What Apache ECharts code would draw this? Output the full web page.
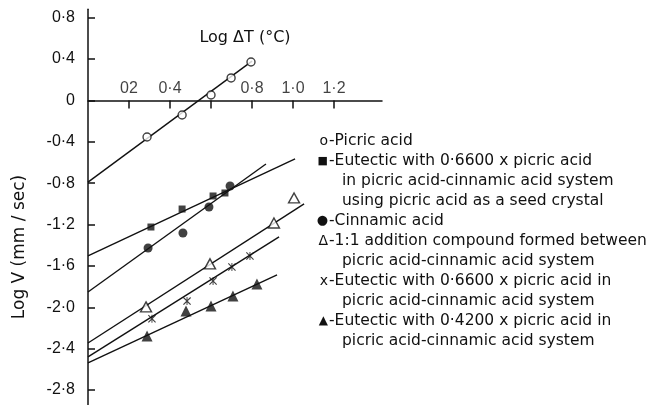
<!DOCTYPE html>
<html>
<head>
<meta charset="utf-8">
<script src="https://cdn.jsdelivr.net/npm/echarts@6/dist/echarts.min.js"></script>
<style>
  html, body { margin: 0; padding: 0; background: #fff; }
  #chart { width: 647px; height: 405px; }
</style>
</head>
<body>
<div id="chart"></div>
<script>
// Axis ticks and their printed labels
const xTickValues = [0.2, 0.4, 0.6, 0.8, 1.0, 1.2];
const xLabelValues = [0.2, 0.4, 0.8, 1.0, 1.2];
const xLabelTexts = ['02', '0·4', '0·8', '1·0', '1·2'];
const yTickValues = [0.8, 0.4, 0, -0.4, -0.8, -1.2, -1.6, -2.0, -2.4, -2.8];
const yLabelTexts = ['0·8', '0·4', '0', '-0·4', '-0·8', '-1·2', '-1·6', '-2·0', '-2·4', '-2·8'];

// Measured points [log ΔT, log V]
const picricAcid = [[0.288, -0.354], [0.459, -0.141], [0.600, 0.052], [0.698, 0.217], [0.795, 0.371]];
const eutecticSeeded = [[0.307, -1.224], [0.459, -1.050], [0.610, -0.924], [0.668, -0.895]];
const cinnamicAcid = [[0.293, -1.427], [0.463, -1.282], [0.590, -1.030], [0.693, -0.827]];
const additionCompound = [[0.283, -1.996], [0.595, -1.580], [0.907, -1.185], [1.005, -0.943]];
const eutectic066 = [[0.312, -2.110], [0.483, -1.940], [0.610, -1.746], [0.702, -1.610], [0.790, -1.504]];
const eutectic042 = [[0.288, -2.277], [0.478, -2.036], [0.600, -1.987], [0.707, -1.891], [0.824, -1.775]];

// Fitted straight lines (end points)
const picricFit = [[0, -0.790], [0.800, 0.380]];
const eutecticSeededFit = [[0, -1.504], [1.010, -0.566]];
const cinnamicFit = [[0, -1.852], [0.868, -0.615]];
const additionFit = [[0, -2.345], [1.054, -1.000]];
const eutectic066Fit = [[0, -2.480], [0.932, -1.320]];
const eutectic042Fit = [[0, -2.538], [0.922, -1.686]];

// Key: marker glyph ('' for a continued line) and text
const keyMarkers = ['o', '■', '', '', '●', 'Δ', '', 'x', '', '▲', ''];
const keyTexts = [
  'Picric acid',
  'Eutectic with 0·6600 x picric acid',
  'in picric acid-cinnamic acid system',
  'using picric acid as a seed crystal',
  'Cinnamic acid',
  '1:1 addition compound formed between',
  'picric acid-cinnamic acid system',
  'Eutectic with 0·6600 x picric acid in',
  'picric acid-cinnamic acid system',
  'Eutectic with 0·4200 x picric acid in',
  'picric acid-cinnamic acid system'
];
const keyMarkerFont = { 'o': '14px', '■': '11px', '●': '13px', 'Δ': '14px', 'x': '14px', '▲': '12px' };

const INK = '#111';
const asterisk = 'path://M0,1 L1,0 L5,4 L9,0 L10,1 L6,5 L10,9 L9,10 L5,6 L1,10 L0,9 L4,5 Z M4.4,0 L5.6,0 L5.6,10 L4.4,10 Z';

function fitLine(data) {
  return {
    type: 'line', data: data, symbol: 'none', silent: true,
    lineStyle: { color: INK, width: 1.4 }, z: 2
  };
}
function markers(data, symbol, size, filled) {
  return {
    type: 'scatter', data: data, symbol: symbol, symbolSize: size, z: 3,
    itemStyle: filled
      ? { color: INK }
      : { color: '#fff', borderColor: INK, borderWidth: 1.4 }
  };
}

const keyGraphics = [];
keyTexts.forEach(function (t, i) {
  const y = 141 + i * 20;
  const m = keyMarkers[i];
  const font = '15.5px "DejaVu Sans"';
  if (m) {
    keyGraphics.push({
      type: 'text', x: 328, y: y,
      style: { text: m, fill: INK, font: keyMarkerFont[m] + ' "DejaVu Sans"',
               align: 'right', verticalAlign: 'middle' }
    });
    keyGraphics.push({
      type: 'text', x: 329, y: y,
      style: { text: '-' + t, fill: INK, font: font, align: 'left', verticalAlign: 'middle' }
    });
  } else {
    keyGraphics.push({
      type: 'text', x: 342, y: y,
      style: { text: t, fill: INK, font: font, align: 'left', verticalAlign: 'middle' }
    });
  }
});

const chart = echarts.init(document.getElementById('chart'), null, { renderer: 'canvas' });
chart.setOption({
  animation: false,
  backgroundColor: '#fff',
  grid: { left: 88, top: 9.35, width: 294, height: 395.2, containLabel: false, outerBoundsMode: 'none' },
  xAxis: {
    type: 'value', min: 0, max: 1.434,
    axisLine: { show: true, onZero: true, lineStyle: { color: INK, width: 1.5 } },
    axisTick: { show: true, inside: false, length: 8, customValues: xTickValues,
                lineStyle: { color: INK, width: 1.5 } },
    axisLabel: { show: false },
    splitLine: { show: false }
  },
  yAxis: {
    type: 'value', min: -2.94, max: 0.88,
    axisLine: { show: true, onZero: false, lineStyle: { color: INK, width: 1.5 } },
    axisTick: { show: true, inside: true, length: 7, customValues: yTickValues,
                lineStyle: { color: INK, width: 1.5 } },
    axisLabel: {
      show: true, customValues: yTickValues, margin: 13,
      color: INK, fontFamily: 'Liberation Sans', fontSize: 16,
      formatter: function (v) {
        const i = yTickValues.findIndex(function (t) { return Math.abs(t - v) < 1e-6; });
        return i >= 0 ? yLabelTexts[i] : '';
      }
    },
    splitLine: { show: false }
  },
  series: [
    fitLine(picricFit),
    fitLine(eutecticSeededFit),
    fitLine(cinnamicFit),
    fitLine(additionFit),
    fitLine(eutectic066Fit),
    fitLine(eutectic042Fit),
    markers(picricAcid, 'circle', 8, false),
    markers(eutecticSeeded, 'rect', 7, true),
    markers(cinnamicAcid, 'circle', 9, true),
    markers(additionCompound, 'triangle', [11, 10], false),
    markers(eutectic066, asterisk, 8, true),
    markers(eutectic042, 'triangle', [11, 11], true),
    {
      // tick labels of the log ΔT axis, printed above the zero line
      type: 'scatter', silent: true, symbolSize: 0, z: 4,
      data: xLabelValues.map(function (v, i) { return { value: [v, 0], name: xLabelTexts[i] }; }),
      label: {
        show: true, position: 'top', distance: 4, color: INK,
        fontFamily: 'Liberation Sans', fontSize: 16,
        formatter: function (p) { return p.name; }
      }
    }
  ],
  graphic: [
    {
      type: 'text', x: 245, y: 38,
      style: { text: 'Log ΔT (°C)', fill: INK, font: '16px "DejaVu Sans"', align: 'center', verticalAlign: 'middle' }
    },
    {
      type: 'text', x: 20, y: 247, rotation: Math.PI / 2,
      style: { text: 'Log V (mm / sec)', fill: INK, font: '17px "DejaVu Sans"', align: 'center', verticalAlign: 'middle' }
    }
  ].concat(keyGraphics)
});
</script>
</body>
</html>
